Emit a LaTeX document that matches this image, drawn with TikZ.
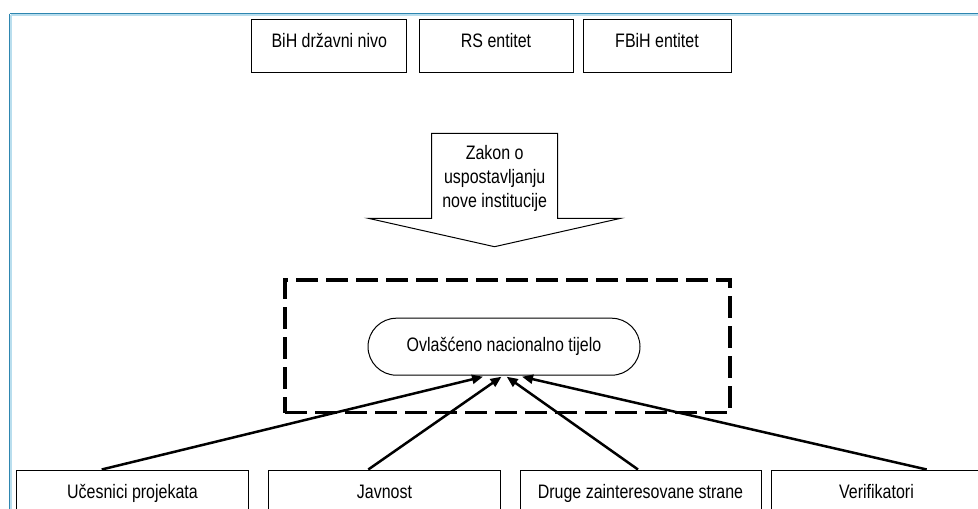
\documentclass[tikz,border=0pt]{standalone}
\usepackage{fontspec}
\setmainfont[FakeStretch=0.82]{Liberation Sans}
\usetikzlibrary{arrows.meta,calc,shapes.misc}
\definecolor{frameteal}{RGB}{46,134,176}
\definecolor{framelight}{RGB}{185,222,238}
\tikzset{
  lbl/.style={font=\fontsize{19.5}{24}\selectfont},
  topbox/.style={draw,line width=1pt,lbl,minimum width=154pt,minimum height=53pt,text height=14pt,text depth=11pt,inner sep=0pt},
  botbox/.style={draw,line width=1pt,lbl,minimum height=60pt,text height=14pt,text depth=18pt,inner sep=0pt},
  dashbox/.style={draw,line width=3.5pt,dash pattern=on 22pt off 8pt,minimum width=445pt,minimum height=132.7pt,inner sep=0pt},
  bodyshape/.style={draw,line width=1pt,rounded rectangle,lbl,minimum width=272pt,minimum height=57pt,inner sep=0pt},
  feed/.style={line width=2.5pt,-{Triangle[length=11pt,width=9pt]}},
}
\begin{document}
\begin{tikzpicture}[x=1pt,y=-1pt]
\useasboundingbox (0,0) rectangle (978,509);
% frame
\draw[framelight,line width=1.5pt] (11,15) -- (978,15);
\draw[framelight,line width=1.5pt] (11,15) -- (11,509);
\draw[frameteal,line width=1.3pt] (9.5,13.5) -- (978,13.5);
\draw[frameteal,line width=1.3pt] (9.5,13.5) -- (9.5,509);
% top boxes
\node[topbox,minimum width=154.7pt] (bih) at (329.3,45.5) {BiH državni nivo};
\node[topbox] (rs) at (496,45.5) {RS entitet};
\node[topbox,minimum width=148pt] (fbih) at (657,45.5) {FBiH entitet};
% block arrow
\coordinate (a1) at (431.7,133.3);
\coordinate (a2) at (557.7,133.3);
\coordinate (a3) at (557.7,218.3);
\coordinate (a4) at (620.7,218.3);
\coordinate (tip) at (494.5,246.7);
\coordinate (a6) at (368.3,218.3);
\coordinate (a7) at (431.7,218.3);
\draw[line width=1pt,fill=white] (a1) -- (a2) -- (a3) -- (a4) -- (tip) -- (a6) -- (a7) -- cycle;
\node[lbl,align=center,inner sep=0pt] (law) at (494.7,178) {Zakon o\\uspostavljanju\\nove institucije};
% dashed region
\node[dashbox] (region) at (507.5,346.3) {};
% national body
\node[bodyshape] (body) at (504,346.7) {Ovlašćeno nacionalno tijelo};
% bottom boxes
\node[botbox,minimum width=231.6pt] (ucesnici) at (132.5,500) {Učesnici projekata};
\node[botbox,minimum width=232.4pt] (javnost) at (384.5,500) {Javnost};
\node[botbox,minimum width=241pt] (druge) at (640.5,500) {Druge zainteresovane strane};
\node[botbox,minimum width=211pt] (verif) at (876.5,500) {Verifikatori};
% connectors
\draw[feed] ($(ucesnici.north)+(-30.8,0)$) -- ($(body.south)+(-21,1)$);
\draw[feed] ($(javnost.north)+(-16.2,0)$) -- ($(body.south)+(-2.5,1)$);
\draw[feed] ($(druge.north)+(-2.5,0)$) -- ($(body.south)+(2.7,1)$);
\draw[feed] ($(verif.north)+(50.2,0)$) -- ($(body.south)+(18,1)$);
\end{tikzpicture}
\end{document}
